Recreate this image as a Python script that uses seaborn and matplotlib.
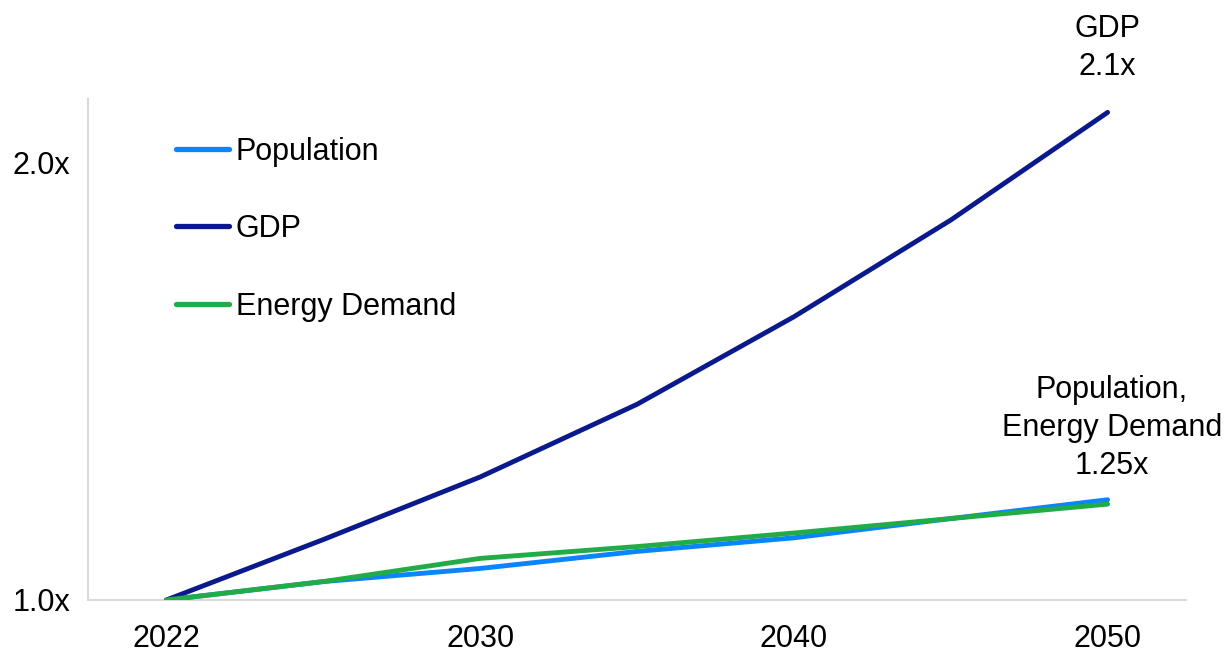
import numpy as np
import pandas as pd

import matplotlib
matplotlib.use('Agg')
import matplotlib.pyplot as plt
import seaborn as sns

# Chart values (multiples of the 2022 level)
years = ['2022', '2025', '2030', '2035', '2040', '2045', '2050']
population = [1.0, 1.042, 1.072, 1.111, 1.142, 1.186, 1.229]
gdp = [1.0, 1.138, 1.281, 1.447, 1.647, 1.868, 2.114]
energy_demand = [1.0, 1.042, 1.095, 1.122, 1.153, 1.186, 1.219]
shown_years = ['2022', '2030', '2040', '2050']
y_ticks = [1.0, 2.0]
y_tick_labels = ['1.0x', '2.0x']

series_names = ['Population', 'GDP', 'Energy Demand']
colors = ['#0A84FF', '#0A1A8C', '#22AC48']


def main():

    sns.set_theme(style='white')
    plt.rcParams['font.family'] = ['Liberation Sans', 'DejaVu Sans']
    plt.rcParams['text.color'] = 'black'

    fs = 22

    # Build long table for seaborn
    idx = np.arange(len(years))
    df = pd.DataFrame({
        'pos': np.tile(idx, 3),
        'value': population + gdp + energy_demand,
        'series': np.repeat(series_names, len(years)),
    })

    fig = plt.figure(figsize=(12.32, 6.53), dpi=100)
    ax = fig.add_axes([0.0714, 0.0812, 0.8913, 0.7668])

    sns.lineplot(data=df, x='pos', y='value', hue='series', hue_order=series_names,
                 palette=colors, linewidth=3.5, ax=ax, legend=True,
                 solid_capstyle='round')

    ax.set_xlim(-0.5, len(years) - 0.5)
    ax.set_ylim(1.0, 2.144)

    ax.set_xticks([years.index(y) for y in shown_years])
    ax.set_xticklabels(shown_years)
    ax.set_yticks(y_ticks)
    ax.set_yticklabels(y_tick_labels)
    ax.tick_params(axis='x', length=0, pad=17, labelsize=fs, colors='black')
    ax.tick_params(axis='y', length=0, pad=13, labelsize=fs, colors='black')
    ax.set_xlabel('')
    ax.set_ylabel('')

    for side in ['top', 'right']:
        ax.spines[side].set_visible(False)
    for side in ['left', 'bottom']:
        ax.spines[side].set_color('#D9D9D9')
        ax.spines[side].set_linewidth(1.5)
    ax.spines['bottom'].set_zorder(0)

    # Legend
    leg = ax.legend(loc='upper left', bbox_to_anchor=(0.069, 0.95), frameon=False,
                    fontsize=fs, handlelength=1.75, handletextpad=0.2,
                    labelspacing=1.56, borderaxespad=0)
    for line in leg.get_lines():
        line.set_linewidth(3.8)
    for txt in leg.get_texts():
        txt.set_color('black')

    # End-point annotations
    ax.annotate('GDP\n2.1x', xy=(len(years) - 1, gdp[-1]), xytext=(0, 27),
                textcoords='offset points', ha='center', va='baseline',
                fontsize=fs, linespacing=1.35, color='black', annotation_clip=False)
    ax.annotate('Population,\nEnergy Demand\n1.25x', xy=(len(years) - 1, population[-1]),
                xytext=(3, 18.5), textcoords='offset points', ha='center', va='baseline',
                fontsize=fs, linespacing=1.35, color='black', annotation_clip=False)

    plt.savefig('out.png', dpi=100)
    plt.close()


if __name__ == '__main__':
    main()
